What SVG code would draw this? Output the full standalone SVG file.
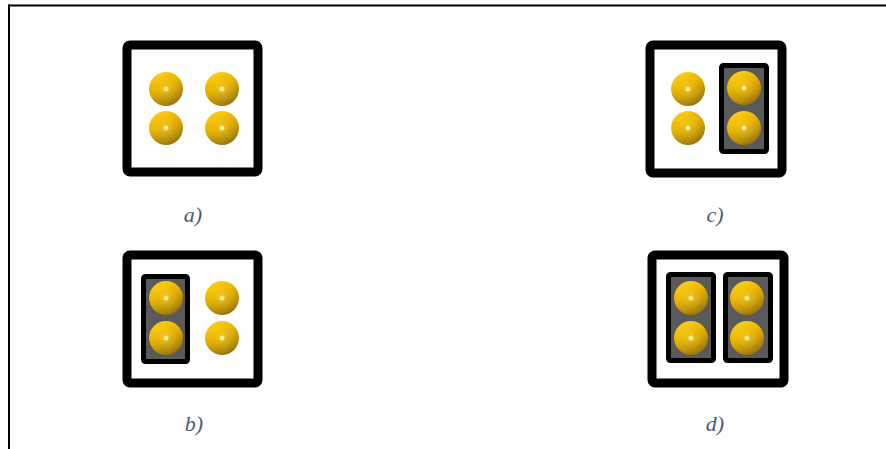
<svg xmlns="http://www.w3.org/2000/svg" width="886" height="449" viewBox="0 0 886 449">
<defs>
<linearGradient id="gold" x1="0.25" y1="0" x2="0.75" y2="1">
<stop offset="0" stop-color="#ffd21a"/>
<stop offset="0.4" stop-color="#e6b000"/>
<stop offset="1" stop-color="#8c6a12"/>
</linearGradient>
<radialGradient id="shine" cx="0.5" cy="0.5" r="0.5">
<stop offset="0" stop-color="#fff0a0" stop-opacity="0.9"/>
<stop offset="0.15" stop-color="#ffdc40" stop-opacity="0.4"/>
<stop offset="1" stop-color="#ffd000" stop-opacity="0"/>
</radialGradient>
<g id="dot">
<circle r="17" fill="url(#gold)"/>
<circle r="17" fill="url(#shine)"/>
<circle r="2.5" fill="#ffeb90"/>
</g>
</defs>
<style>
.box{fill:#ffffff;stroke:#000000;stroke-width:9}
.grp{fill:#5a5a5a;stroke:#000000;stroke-width:5}
.lbl{font-family:"Liberation Serif",serif;font-style:italic;font-size:22px;fill:#4a5872;text-anchor:middle}
</style>
<rect width="886" height="449" fill="#ffffff"/>
<g id="frame">
<line x1="8" y1="5.5" x2="886" y2="5.5" stroke="#000" stroke-width="2"/>
<line x1="9" y1="4.5" x2="9" y2="449" stroke="#000" stroke-width="2"/>
</g>
<g id="a">
<rect class="box" x="127" y="45" width="131" height="127" rx="3"/>
<use href="#dot" x="166" y="89"/>
<use href="#dot" x="222" y="89"/>
<use href="#dot" x="166" y="128"/>
<use href="#dot" x="222" y="128"/>
<text class="lbl" x="193" y="222">a)</text>
</g>
<g id="c">
<rect class="box" x="650" y="45" width="132" height="128" rx="3"/>
<rect class="grp" x="721.5" y="65.5" width="45" height="86" rx="2"/>
<use href="#dot" x="688" y="89"/>
<use href="#dot" x="688" y="128"/>
<use href="#dot" x="744" y="88"/>
<use href="#dot" x="744" y="128"/>
<text class="lbl" x="715" y="222">c)</text>
</g>
<g id="b">
<rect class="box" x="127" y="255" width="131" height="128" rx="3"/>
<rect class="grp" x="143.5" y="276.5" width="44" height="85" rx="2"/>
<use href="#dot" x="166" y="298"/>
<use href="#dot" x="166" y="338"/>
<use href="#dot" x="222" y="298"/>
<use href="#dot" x="222" y="338"/>
<text class="lbl" x="194" y="431">b)</text>
</g>
<g id="d">
<rect class="box" x="652" y="255" width="132" height="128" rx="3"/>
<rect class="grp" x="668.5" y="274.5" width="45" height="86" rx="2"/>
<rect class="grp" x="725.5" y="274.5" width="45" height="86" rx="2"/>
<use href="#dot" x="691" y="298"/>
<use href="#dot" x="691" y="338"/>
<use href="#dot" x="747" y="298"/>
<use href="#dot" x="747" y="338"/>
<text class="lbl" x="715" y="431">d)</text>
</g>
</svg>
